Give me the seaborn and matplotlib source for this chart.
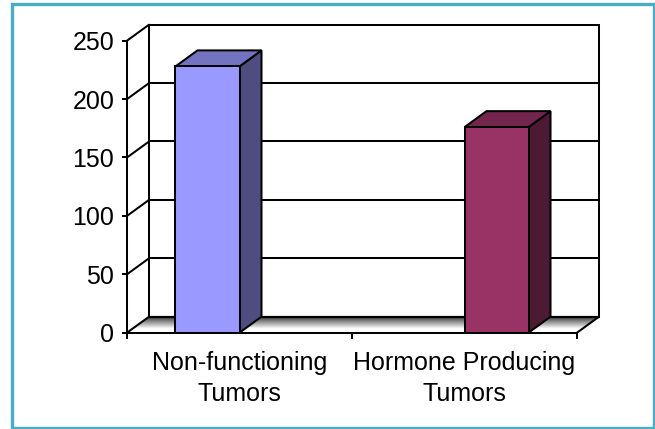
import numpy as np
import pandas as pd
import matplotlib
matplotlib.use("Agg")
import matplotlib.pyplot as plt
from matplotlib.patches import Polygon, Rectangle
import seaborn as sns

categories = ["Non-functioning\nTumors", "Hormone Producing\nTumors"]
series = ["Non-functioning", "Hormone Producing"]
values = [228, 176]
y_ticks = [0, 50, 100, 150, 200, 250]

front_colors = ["#9999FF", "#993366"]
side_colors = ["#4D4D80", "#4D1A33"]
top_colors = ["#7373BF", "#73264D"]

W, H = 655, 429
sns.set_theme(style="white")
plt.rcParams["font.family"] = ["Liberation Sans", "DejaVu Sans"]
fig = plt.figure(figsize=(W / 100, H / 100), dpi=100, facecolor="white")

# frame
fig.add_artist(Rectangle((12 / W, 1 - 428 / H), (653.5 - 12) / W, (428 - 4.3) / H, transform=fig.transFigure,
                         fill=False, edgecolor="#4BACC6", linewidth=2.4))

L, R, T, B = 127, 577, 40.7, 332.7
ax = fig.add_axes([L / W, 1 - B / H, (R - L) / W, (B - T) / H])

df = pd.DataFrame({"category": categories, "series": series, "value": values})
lw = 1.45
sns.barplot(data=df, x="category", y="value", hue="series", hue_order=series,
            palette=front_colors, width=0.569, gap=0, dodge=True, saturation=1,
            legend=False, edgecolor="black", linewidth=lw, ax=ax, zorder=5)
ax.set_xlim(-0.5, 1.5)
ax.set_ylim(0, 250)
ax.set_xlabel("")
ax.set_ylabel("")

dx = 22 / (R - L) * 2       # depth offset in data units
dy = 16 / (B - T) * 250
k = dict(clip_on=False)

# floor with gradient: slices from front (white) to back (black)
n = 32
for i in range(n):
    t0, t1 = i / n, (i + 1) / n
    shade = np.clip(1 - (t0 - 0.25) / 0.7, 0, 1)
    ax.add_patch(Polygon([(-0.5 + dx * t0, dy * t0), (1.5 + dx * t0, dy * t0),
                          (1.5 + dx * t1, dy * t1), (-0.5 + dx * t1, dy * t1)], closed=True,
                         facecolor=str(float(shade)), edgecolor="none", lw=0, zorder=1, clip_on=False))

# walls and gridlines
for v in y_ticks:
    ax.plot([-0.5, -0.5 + dx], [v, v + dy], color="black", lw=lw, zorder=2, **k)
    if v > 0:
        ax.plot([-0.5 + dx, 1.5 + dx], [v + dy, v + dy], color="black", lw=lw, zorder=2, **k)
ax.plot([-0.5 + dx, 1.5 + dx], [dy, dy], color="black", lw=1.6, zorder=2, **k)
ax.plot([-0.5 + dx, -0.5 + dx], [dy, 250 + dy], color="black", lw=lw, zorder=2, **k)
ax.plot([1.5 + dx, 1.5 + dx], [dy, 250 + dy], color="black", lw=lw, zorder=2, **k)
ax.plot([1.5, 1.5 + dx], [0, dy], color="black", lw=lw, zorder=2, **k)

# 3D faces of bars
bars = [p for p in ax.patches if p.get_zorder() == 5 and p.get_height() > 0 and np.isfinite(p.get_height())]
bars = sorted(bars, key=lambda p: p.get_x())
for p, sc, tc in zip(bars, side_colors, top_colors):
    x0, x1, h = p.get_x(), p.get_x() + p.get_width(), p.get_height()
    ax.add_patch(Polygon([(x1, 0), (x1 + dx, dy), (x1 + dx, h + dy), (x1, h)], closed=True,
                         facecolor=sc, edgecolor="black", lw=lw, zorder=4, clip_on=False))
    ax.add_patch(Polygon([(x0, h), (x0 + dx, h + dy), (x1 + dx, h + dy), (x1, h)], closed=True,
                         facecolor=tc, edgecolor="black", lw=lw, zorder=4, clip_on=False))

# axes
for s in ["top", "right"]:
    ax.spines[s].set_visible(False)
for s in ["left", "bottom"]:
    ax.spines[s].set_visible(True)
    ax.spines[s].set_color("black")
    ax.spines[s].set_linewidth(lw)
    ax.spines[s].set_zorder(6)
ax.patch.set_alpha(0)
ax.set_yticks(y_ticks)
ax.set_yticklabels([str(v) for v in y_ticks])
ax.tick_params(axis="y", which="major", left=True, length=3.6, width=lw, color="black",
               labelsize=18, labelcolor="black", pad=5.5)
ax.set_xticks([0, 1])
ax.set_xticklabels(categories, linespacing=1.36)
ax.set_xticks([-0.5, 0.5, 1.5], minor=True)
ax.tick_params(axis="x", which="major", bottom=False, labelsize=18, labelcolor="black", length=0, pad=13)
ax.tick_params(axis="x", which="minor", bottom=True, length=4, width=lw, color="black")

fig.savefig("out.png", dpi=100, facecolor="white")
